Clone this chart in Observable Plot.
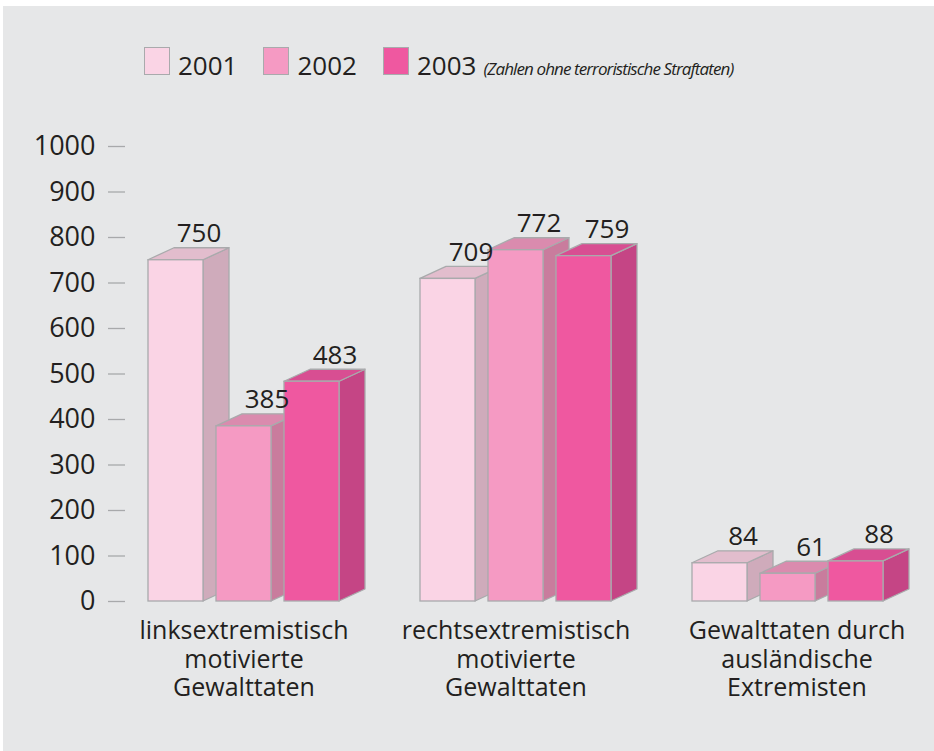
<!DOCTYPE html>
<html><head><meta charset="utf-8">
<script src="https://cdn.jsdelivr.net/npm/d3@7"></script>
<script src="https://cdn.jsdelivr.net/npm/@observablehq/plot@0.6"></script>
<style>
body{margin:0;background:#fff;}
#page{position:relative;width:934px;height:751px;overflow:hidden;font-family:"Open Sans",sans-serif;color:#231f20;}
#bg{position:absolute;left:3px;top:6px;right:0;bottom:0;background:#e6e7e8;}
#chart{position:absolute;left:0;top:0;}
#legend{position:absolute;left:144px;top:47px;display:flex;align-items:baseline;font-size:26px;line-height:34px;white-space:nowrap;}
.sw{width:24px;height:26px;border:1.5px solid #a9aaac;margin-bottom:-4px;box-sizing:content-box;}
.lt{margin-left:8px;margin-right:26px;}
.note{font-size:17px;font-style:italic;margin-left:-19px;letter-spacing:-0.9px;}
</style>
</head><body>
<div id="page"><div id="bg"></div><div id="chart"></div><div id="legend"></div></div>
<script>
const categories = ["linksextremistisch\nmotivierte\nGewalttaten", "rechtsextremistisch\nmotivierte\nGewalttaten", "Gewalttaten durch\nausländische\nExtremisten"];
const years = ["2001", "2002", "2003"];
const values2001 = [750, 709, 84];
const values2002 = [385, 772, 61];
const values2003 = [483, 759, 88];
const yTicks = [0, 100, 200, 300, 400, 500, 600, 700, 800, 900, 1000];
const note = "(Zahlen ohne terroristische Straftaten)";

const frontColors = ["#fad4e5", "#f59ac3", "#ef58a0"];
const topColors = ["#e2bdcd", "#da8bae", "#d84e92"];
const sideColors = ["#cfabbb", "#c97c9d", "#c54585"];
const edge = "#a9aaac";
const DX = 26, DY = 12;

const series = [values2001, values2002, values2003];
const rows = [];
const domain = [];
categories.forEach((c, g) => {
  if (g > 0) domain.push("gap" + g);
  years.forEach((yr, i) => {
    const key = g + "|" + yr;
    domain.push(key);
    rows.push({key, year: yr, value: series[i][g], cat: c});
  });
});
const catRows = categories.map((c, g) => ({key: g + "|" + years[1], label: c, y0: 0, g}));

function depthFaces(index, scales) {
  const sx = scales.x, sy = scales.y;
  const bw = typeof sx.bandwidth === "function" ? sx.bandwidth() : sx.bandwidth;
  const g = d3.create("svg:g").attr("stroke", edge).attr("stroke-width", 1.3).attr("stroke-linejoin", "round");
  const y0 = sy(0);
  for (const d of rows) {
    const x0 = sx(d.key), x1 = x0 + bw, yt = sy(d.value);
    const ci = years.indexOf(d.year);
    g.append("polygon")
      .attr("points", [[x1, y0], [x1 + DX, y0 - DY], [x1 + DX, yt - DY], [x1, yt]].join(" "))
      .attr("fill", sideColors[ci]);
    g.append("polygon")
      .attr("points", [[x0, yt], [x0 + DX, yt - DY], [x1 + DX, yt - DY], [x1, yt]].join(" "))
      .attr("fill", topColors[ci]);
  }
  return g.node();
}

const catText = {x: "key", y: "y0", text: "label", lineAnchor: "top", dy: 17, lineHeight: 1.15, fontSize: 25, fill: "#231f20"};

const chart = Plot.plot({
  width: 934,
  height: 751,
  marginTop: 146,
  marginBottom: 150,
  marginLeft: 148,
  marginRight: 51,
  style: {background: "transparent", fontFamily: "'Open Sans', sans-serif", fontSize: "26px", color: "#231f20", overflow: "visible"},
  x: {domain, axis: null, paddingInner: 13 / 68, paddingOuter: 0},
  y: {domain: [0, 1000]},
  color: {domain: years, range: frontColors},
  marks: [
    Plot.axisY(yTicks, {tickSize: 17, tickPadding: 13, dx: -23, stroke: "#a8a9ab", strokeWidth: 1.3, fill: "#231f20", fontSize: 27, tickFormat: d => String(d), label: null}),
    depthFaces,
    Plot.barY(rows, {x: "key", y: "value", fill: "year", stroke: edge, strokeWidth: 1.3}),
    Plot.text(rows, {x: "key", y: "value", text: d => String(d.value), dx: 23, dy: -18, lineAnchor: "bottom", fontSize: 26, fill: "#231f20"}),
    Plot.text(catRows.filter(d => d.g < 2), catText),
    Plot.text(catRows.filter(d => d.g === 2), {...catText, dx: 9})
  ]
});
document.getElementById("chart").appendChild(chart);

const legend = document.getElementById("legend");
years.forEach((yr, i) => {
  const sw = document.createElement("div");
  sw.className = "sw";
  sw.style.background = frontColors[i];
  legend.appendChild(sw);
  const t = document.createElement("span");
  t.className = "lt";
  t.textContent = yr;
  legend.appendChild(t);
});
const n = document.createElement("span");
n.className = "note";
n.textContent = note;
legend.appendChild(n);
</script>
</body></html>
